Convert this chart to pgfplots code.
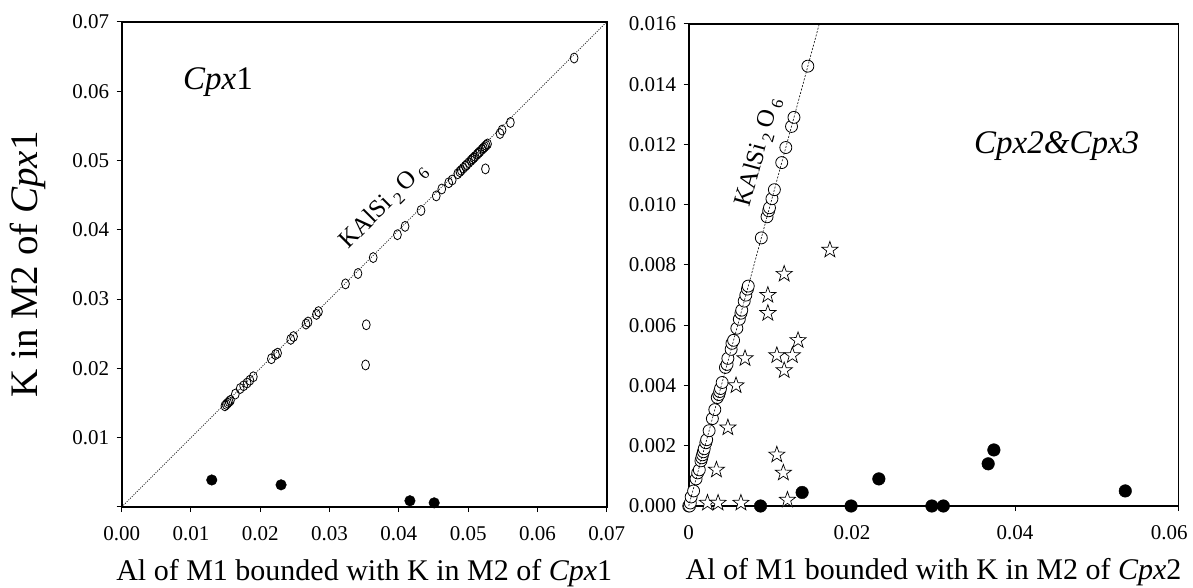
\documentclass[border=0pt]{standalone}
\usepackage{fontspec}
\setmainfont{Liberation Serif}
\usepackage{pgfplots}
\pgfplotsset{compat=1.18}

\newcommand{\fs}[1]{\fontsize{#1bp}{#1bp}\selectfont}

% open five-point star
\pgfdeclareplotmark{ostar}{%
  \pgfpathmoveto{\pgfpointpolar{90}{\pgfplotmarksize}}%
  \pgfpathlineto{\pgfpointpolar{126}{0.4*\pgfplotmarksize}}%
  \pgfpathlineto{\pgfpointpolar{162}{\pgfplotmarksize}}%
  \pgfpathlineto{\pgfpointpolar{198}{0.4*\pgfplotmarksize}}%
  \pgfpathlineto{\pgfpointpolar{234}{\pgfplotmarksize}}%
  \pgfpathlineto{\pgfpointpolar{270}{0.4*\pgfplotmarksize}}%
  \pgfpathlineto{\pgfpointpolar{306}{\pgfplotmarksize}}%
  \pgfpathlineto{\pgfpointpolar{342}{0.4*\pgfplotmarksize}}%
  \pgfpathlineto{\pgfpointpolar{18}{\pgfplotmarksize}}%
  \pgfpathlineto{\pgfpointpolar{54}{0.4*\pgfplotmarksize}}%
  \pgfpathclose
  \pgfusepathqfillstroke}

\pgfplotsset{
  panel/.style={
    scale only axis,
    axis line style={line width=1.6bp},
    tick style={line width=1bp, black},
    major tick length=5bp,
    tick align=outside,
    xtick pos=bottom, ytick pos=left,
    scaled ticks=false,
    xticklabel style={font=\fs{21}, yshift=-11bp},
    yticklabel style={font=\fs{21}, xshift=-4bp},
    /pgf/number format/assume math mode=true,
    clip mode=individual,
    xlabel style={font=\fs{30}, at={(axis description cs:0.5,0)}, anchor=base, yshift=-73bp},
  },
}

\begin{document}
\begin{tikzpicture}
\useasboundingbox (0,0) rectangle (1193bp,588bp);

% ---- Cpx1 ----
\begin{axis}[panel,
  at={(121.7bp,81bp)}, anchor=south west,
  width=485bp, height=485bp,
  xmin=0, xmax=0.07, ymin=0, ymax=0.07,
  xtick={0,0.01,0.02,0.03,0.04,0.05,0.06,0.07},
  xticklabels={0.00,0.01,0.02,0.03,0.04,0.05,0.06,0.07},
  ytick={0,0.01,0.02,0.03,0.04,0.05,0.06,0.07},
  yticklabels={,0.01,0.02,0.03,0.04,0.05,0.06,0.07},
  xlabel={Al of M1 bounded with K in M2 of \textit{Cpx}1},
  ylabel={K in M2 of \textit{Cpx}1},
  ylabel style={font=\fs{39}, at={(axis description cs:-0.1932,0.5)}, anchor=center},
]
\addplot[only marks, mark=o, mark size=5bp, mark options={xscale=0.78, line width=0.8bp}] coordinates {
  (0.0149,0.0146) (0.0151,0.0148) (0.0153,0.0150) (0.0155,0.0152) (0.0157,0.0154)
  (0.0164,0.0163) (0.0171,0.0171) (0.0176,0.0175) (0.0181,0.0179) (0.0185,0.0183)
  (0.0190,0.0188) (0.0216,0.0214) (0.0222,0.0220) (0.0225,0.0222) (0.0244,0.0242)
  (0.0248,0.0246) (0.0266,0.0264) (0.0269,0.0267) (0.0281,0.0278) (0.0284,0.0282)
  (0.0323,0.0322) (0.0341,0.0337) (0.0363,0.0360) (0.0398,0.0393) (0.0409,0.0405)
  (0.0432,0.0428) (0.0454,0.0449) (0.0462,0.0459) (0.0472,0.0468) (0.0477,0.0472)
  (0.0485,0.0481) (0.0488,0.0484) (0.0490,0.0486) (0.0493,0.0489) (0.0496,0.0492)
  (0.0498,0.0494) (0.0501,0.0497) (0.0504,0.0500) (0.0506,0.0502) (0.0508,0.0504)
  (0.0510,0.0506) (0.0513,0.0509) (0.0515,0.0511) (0.0517,0.0513) (0.0520,0.0516)
  (0.0522,0.0518) (0.0524,0.0520) (0.0526,0.0522) (0.0528,0.0524)
  (0.0546,0.0539) (0.0549,0.0544) (0.0561,0.0555) (0.0653,0.0648)
  (0.0353,0.0263) (0.0352,0.0205) (0.0525,0.0488)
};
\addplot[only marks, mark=*, mark size=5.3bp, black] coordinates {
  (0.0130,0.0039) (0.0230,0.0032) (0.0416,0.0009) (0.0451,0.0006)
};
\addplot[line width=0.7bp, black, dash pattern=on 1bp off 1.4bp] coordinates {(0,0) (0.07,0.07)};
\node[font=\fs{33}] at (axis cs:0.0139,0.0613) {\textit{Cpx}1};
\node[rotate=45, anchor=base west, inner sep=0pt, font=\fs{25}] at (axis cs:0.0327,0.0371)
  {KAlSi\,\raisebox{-5bp}{\fs{17}2}\,O\,\raisebox{-5bp}{\fs{17}6}};
\end{axis}

% ---- Cpx2 & Cpx3 ----
\begin{axis}[panel,
  at={(688.7bp,82bp)}, anchor=south west,
  width=489.6bp, height=482bp,
  xmin=0, xmax=0.06, ymin=0, ymax=0.016,
  xtick={0,0.02,0.04,0.06},
  xticklabels={0,0.02,0.04,\hspace*{-18bp}0.06},
  ytick={0,0.002,0.004,0.006,0.008,0.010,0.012,0.014,0.016},
  yticklabels={0.000,0.002,0.004,0.006,0.008,0.010,0.012,0.014,0.016},
  xlabel={Al of M1 bounded with K in M2 of \textit{Cpx}2},
]
\addplot[only marks, mark=*, mark size=6bp, mark options={fill=white, draw=black, line width=0.8bp}] coordinates {
  (0.0000,0.0000) (0.0001,0.0000) (0.0002,0.0001) (0.0003,0.0003) (0.0006,0.0005)
  (0.0009,0.0009) (0.0011,0.0011) (0.0013,0.0012) (0.0015,0.0015) (0.0016,0.0016)
  (0.0017,0.0017) (0.0018,0.0018) (0.0019,0.0019) (0.0021,0.0021) (0.0022,0.0022)
  (0.0025,0.0025) (0.0029,0.0029) (0.0032,0.0032) (0.0035,0.0036) (0.0037,0.0037)
  (0.0038,0.0038) (0.0039,0.0039) (0.0041,0.0041) (0.0045,0.0046) (0.0047,0.0047)
  (0.0048,0.0049) (0.0052,0.0052) (0.0053,0.0054) (0.0055,0.0055) (0.0059,0.0059)
  (0.0062,0.0062) (0.0064,0.0064) (0.0065,0.0065) (0.0068,0.0068) (0.0070,0.0070)
  (0.0072,0.0072) (0.0073,0.0073)
  (0.0089,0.0089) (0.0096,0.0096) (0.0098,0.0098) (0.0099,0.0099) (0.0102,0.0102)
  (0.0105,0.0105) (0.0114,0.0114) (0.0119,0.0119) (0.0126,0.0126) (0.0129,0.0129)
  (0.0146,0.0146)
};
\addplot[only marks, mark=ostar, mark size=8.5bp, mark options={fill=white, draw=black, line width=0.7bp}] coordinates {
  (0.0173,0.0085) (0.0117,0.0077) (0.0097,0.0070) (0.0097,0.0064) (0.0134,0.0055)
  (0.0108,0.0050) (0.0127,0.0050) (0.0117,0.0045) (0.0069,0.0049) (0.0058,0.0040)
  (0.0048,0.0026) (0.0108,0.0017) (0.0116,0.0011) (0.0034,0.0012) (0.0121,0.0002)
  (0.0023,0.0001) (0.0036,0.0001) (0.0064,0.0001)
};
\addplot[only marks, mark=*, mark size=6.3bp, black] coordinates {
  (0.0088,0) (0.0139,0.00045) (0.0199,0) (0.0233,0.0009) (0.0298,0) (0.0312,0)
  (0.0367,0.0014) (0.0374,0.00186) (0.0535,0.0005)
};
\addplot[line width=0.6bp, black, dash pattern=on 2bp off 1.5bp] coordinates {(0,0) (0.017,0.017)};
\node[font=\fs{33}] at (axis cs:0.0451,0.01195) {\textit{Cpx2\&Cpx3}};
\node[rotate=74.85, anchor=base west, inner sep=0pt, font=\fs{25}] at (axis cs:0.0075,0.0099)
  {KAlSi\,\raisebox{-5bp}{\fs{17}2}\,O\,\raisebox{-5bp}{\fs{17}6}};
\end{axis}
\end{tikzpicture}
\end{document}
